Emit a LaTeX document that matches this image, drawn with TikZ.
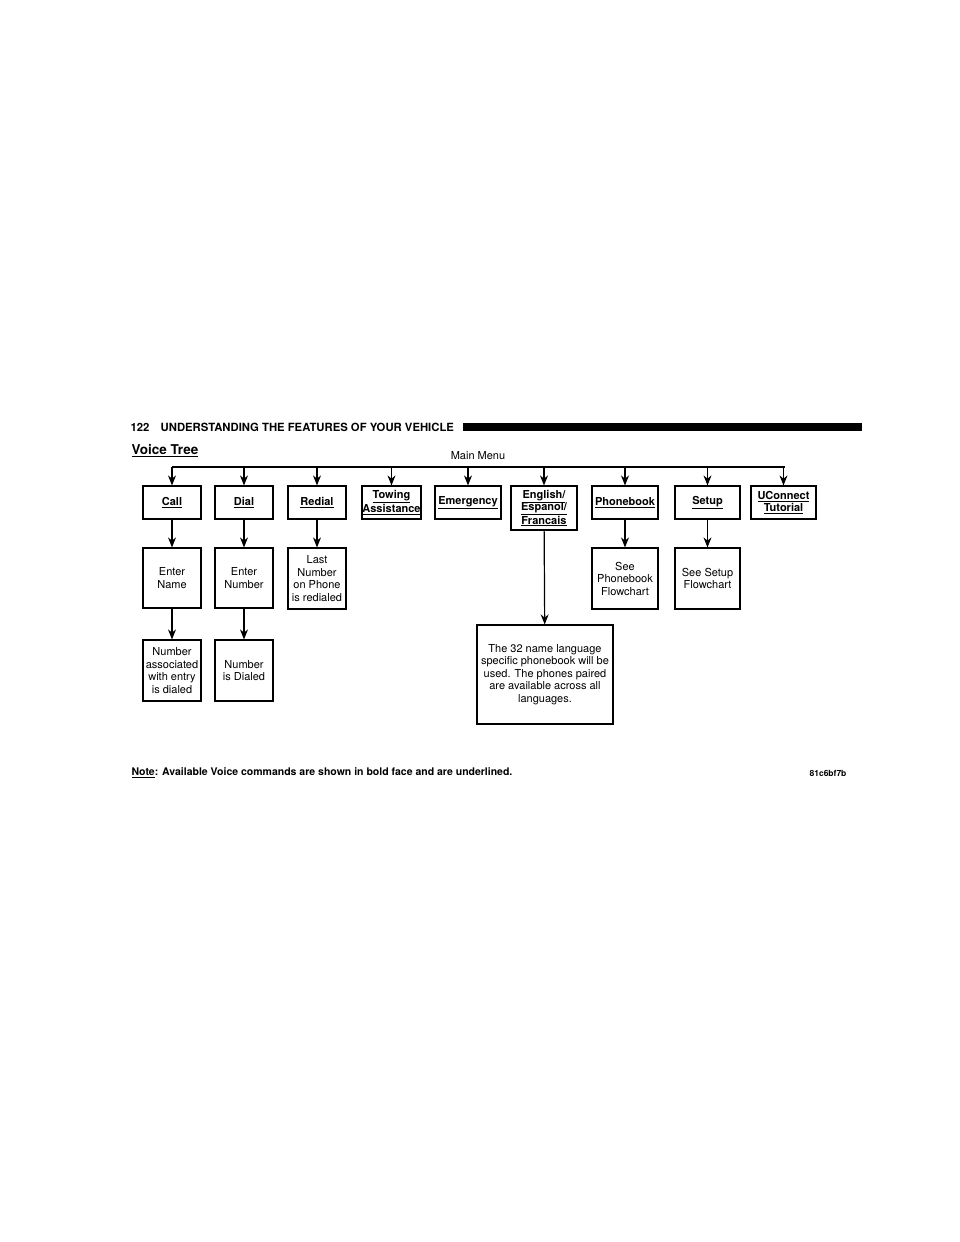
\documentclass[tikz,border=0pt]{standalone}
\usepackage{fontspec}
\setmainfont{TeX Gyre Heros}
\usetikzlibrary{arrows.meta}
\tikzset{box/.style={draw,line width=1.2pt,inner sep=0pt,align=center,font=\fontsize{11}{12.5}\selectfont}}
\tikzset{cmd/.style={box,font=\fontsize{11}{12.5}\selectfont\bfseries}}
\tikzset{edge/.style={line width=1.2pt,-{Stealth[length=10pt,width=8pt]}}}
\newcommand{\ul}[1]{\underline{#1}}
\begin{document}
\begin{tikzpicture}[x=1pt,y=-1pt]
\useasboundingbox (0,0) rectangle (960,1242);
\node [anchor=west,font=\fontsize{11.3}{13}\selectfont\bfseries] (head) at (127,427) {122\quad UNDERSTANDING THE FEATURES OF YOUR VEHICLE};
\fill (463,423) rectangle (862,431);
\node [anchor=west,font=\fontsize{13.5}{15}\selectfont\bfseries] (title) at (128,451) {\ul{Voice Tree}};
\node [font=\fontsize{11}{12.5}\selectfont] (main) at (478,456) {Main Menu};

\node [cmd,minimum width=58,minimum height=33] (call) at (172,502.5) {\ul{Call}};
\node [cmd,minimum width=58,minimum height=33] (dial) at (244,502.5) {\ul{Dial}};
\node [cmd,minimum width=58,minimum height=33] (redial) at (317,502.5) {\ul{Redial}};
\node [cmd,minimum width=59,minimum height=33] (tow) at (391.5,502.5) {\ul{Towing}\\\ul{Assistance}};
\node [cmd,minimum width=66,minimum height=33] (emerg) at (468,502.5) {\ul{Emergency}};
\node [cmd,minimum width=66,minimum height=44] (lang) at (544,508) {\ul{English/}\\\ul{Espanol/}\\\ul{Francais}};
\node [cmd,minimum width=66,minimum height=33] (phone) at (625,502.5) {\ul{Phonebook}};
\node [cmd,minimum width=65,minimum height=33] (setup) at (707.5,502.5) {\ul{Setup}};
\node [cmd,minimum width=65,minimum height=33] (ucon) at (783.5,502.5) {\ul{UConnect}\\\ul{Tutorial}};

\node [box,minimum width=58,minimum height=60] (name) at (172,578) {Enter\\Name};
\node [box,minimum width=58,minimum height=60] (number) at (244,578) {Enter\\Number};
\node [box,minimum width=58,minimum height=61] (last) at (317,578.5) {Last\\Number\\on Phone\\is redialed};
\node [box,minimum width=66,minimum height=61] (seephone) at (625,578.5) {See\\Phonebook\\Flowchart};
\node [box,minimum width=65,minimum height=61] (seesetup) at (707.5,578.5) {See Setup\\Flowchart};

\node [box,minimum width=58,minimum height=61] (assoc) at (172,670.5) {Number\\associated\\with entry\\is dialed};
\node [box,minimum width=58,minimum height=61] (dialed) at (244,670.5) {Number\\is Dialed};
\node [box,minimum width=136,minimum height=99] (note32) at (545,674.5) {The 32 name language\\specific phonebook will be\\used. The phones paired\\are available across all\\languages.};

% main menu bus
\coordinate (busl) at (172,467);
\coordinate (busr) at (785,467);
\draw [line width=1.2pt] (busl) -- (busr);
\foreach \n in {call,dial,redial,tow,emerg,lang,phone,setup,ucon}
  \draw [edge] (\n.north |- busl) -- (\n.north);

\draw [edge] (call) -- (name);
\draw [edge] (dial) -- (number);
\draw [edge] (redial) -- (last);
\draw [edge] (phone) -- (seephone);
\draw [edge] (setup) -- (seesetup);
\draw [edge] (name) -- (assoc);
\draw [edge] (number) -- (dialed);
\draw [edge] (lang) -- (note32);

\node [anchor=west,font=\fontsize{10.5}{12}\selectfont\bfseries] (note) at (128,773) {\ul{Note}: Available Voice commands are shown in bold face and are underlined.};
\node [font=\fontsize{8.5}{10}\selectfont\bfseries] (code) at (828,773) {81c6bf7b};
\end{tikzpicture}
\end{document}
